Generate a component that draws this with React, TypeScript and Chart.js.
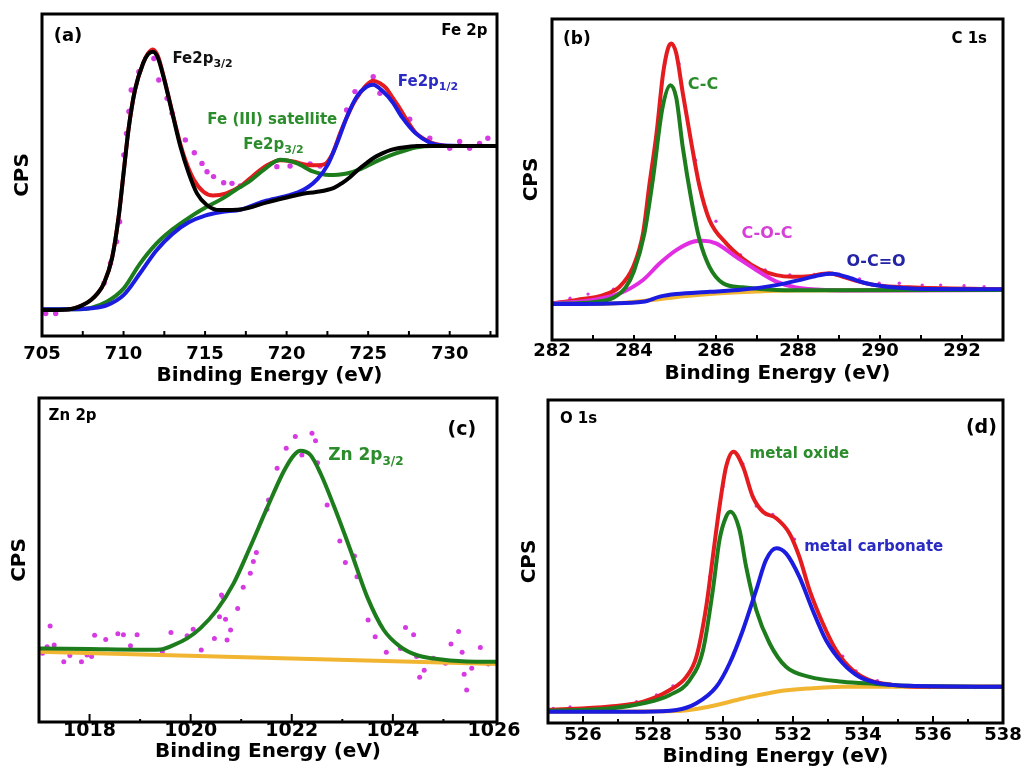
import React, { useEffect, useRef } from "react";
import { Chart, registerables } from "chart.js";

Chart.register(...registerables);

const FONT = '"DejaVu Sans", "Liberation Sans", Arial, sans-serif';

const RED = "#e41b1f";
const BLACK = "#000000";
const BLUE = "#1c1ce0";
const GREEN = "#1d7d1d";
const MAGENTA = "#d63be3";
const PINK = "#e22ee2";
const ORANGE = "#f2b531";
const LGREEN = "#2b8c2b";
const LBLUE = "#2a2ac4";

// ---------------- (a) Fe 2p ----------------
const feTicks = [705, 710, 715, 720, 725, 730];
const feMinor = [707.5, 710, 712.5, 715, 717.5, 720, 722.5, 725, 727.5, 730, 732.5];
const feRedE = [705, 706, 707, 707.5, 708, 708.4, 708.8, 709.3, 709.7, 710, 710.3, 710.7, 711.2, 711.5, 711.8, 712.1, 712.5, 713, 713.5, 713.8, 714.3, 714.9, 715.5, 716.3, 717.2, 718, 718.8, 719.6, 720.4, 721.2, 721.8, 722.3, 722.8, 723.3, 723.7, 724.1, 724.5, 724.9, 725.3, 725.7, 726.1, 726.5, 726.9, 727.4, 727.9, 728.4, 728.9, 729.5, 730, 732.9];
const feRedY = [8.1, 8.1, 8.6, 9.6, 11.2, 13.2, 16.4, 24.3, 37, 50.5, 64, 76.4, 84.7, 87.8, 89, 87, 79.8, 69.3, 59.3, 54.5, 48.6, 44.8, 43.6, 44.3, 46.6, 50, 53, 54.6, 54.2, 53.2, 53, 53.3, 56.5, 63.2, 68, 72.3, 75.4, 78, 79.3, 78.6, 77, 74, 71, 66.8, 63.2, 61.3, 60, 59.3, 59, 59];
const feBlackE = [705, 706, 707, 707.5, 708, 708.4, 708.8, 709.3, 709.7, 710, 710.3, 710.7, 711.2, 711.5, 711.8, 712.1, 712.5, 713, 713.5, 714, 714.5, 715.1, 715.9, 717.2, 718.8, 720, 721, 721.8, 722.9, 723.4, 723.9, 724.4, 724.9, 725.4, 725.9, 726.4, 726.9, 727.5, 728, 729, 732.9];
const feBlackY = [8.1, 8.1, 8.6, 9.6, 11.2, 13.2, 16.4, 24.3, 37, 50.5, 64, 76.4, 84.7, 87.5, 88.3, 86.5, 79.5, 69, 58.6, 50.5, 44.3, 40.7, 39.1, 39.3, 41.5, 43, 44.2, 44.7, 46, 47.5, 49.4, 51.7, 53.7, 55.5, 56.8, 57.8, 58.4, 58.8, 59, 59, 59];
const feBlueE = [705, 707, 708, 709, 710, 711, 712, 713, 714, 715, 716, 717.2, 718.6, 720, 720.7, 721.3, 721.9, 722.5, 723.1, 723.7, 724.3, 724.9, 725.3, 725.9, 726.5, 727.1, 727.9, 728.8, 729.6, 732.9];
const feBlueY = [8.3, 8.3, 8.6, 9.6, 12.7, 19.4, 26.5, 31.7, 35.3, 37.4, 38.5, 39.3, 41.8, 43.5, 44.6, 46.2, 48.8, 53, 60, 68.1, 74.3, 77.4, 78, 76, 72.6, 67.8, 63, 60, 59.2, 59];
const feGreenE = [705, 707, 708, 709, 710, 711, 712, 713, 714, 715, 716, 717, 717.6, 718.6, 719.6, 720.6, 721.6, 722.6, 723.6, 724.6, 725.7, 726.7, 728, 729, 732.9];
const feGreenY = [8.3, 8.3, 8.7, 10.7, 14.7, 22.4, 28.6, 33.1, 36.7, 39.8, 42.5, 45.8, 47.6, 51.6, 54.7, 53.7, 51.1, 50, 50.4, 52, 54.7, 56.7, 58.6, 59, 59];
const feDotsE = [705.23, 705.84, 708.8, 709.2, 709.57, 709.76, 710.02, 710.18, 710.33, 710.47, 710.94, 711.86, 712.16, 712.67, 712.98, 713.79, 714.34, 714.81, 715.12, 715.52, 716.14, 716.65, 717.16, 719.4, 720.21, 721.44, 722.05, 723.68, 724.19, 725.31, 725.72, 726.74, 727.55, 728.78, 730, 730.61, 731.22, 731.83, 732.34];
const feDotsY = [7, 7, 16.4, 22.6, 29.3, 35.5, 56.2, 62.9, 69.7, 76.4, 82.1, 86.2, 79.5, 73.8, 69.2, 60.9, 56.9, 53.6, 51, 49.5, 47.6, 47.4, 46.6, 52.6, 52.8, 53.4, 52.8, 70.2, 75.9, 80.5, 75.4, 71.7, 67.3, 61.4, 58.3, 60.4, 58.3, 59.8, 61.4];

// ---------------- (b) C 1s ----------------
const cTicks = [282, 284, 286, 288, 290, 292];
const cMinor = [283, 284, 285, 286, 287, 288, 289, 290, 291, 292];
const cRedE = [282, 282.6, 283.25, 283.65, 283.98, 284.22, 284.38, 284.55, 284.71, 284.83, 284.91, 285.03, 285.19, 285.4, 285.6, 285.84, 286.25, 286.65, 287.06, 287.47, 287.87, 288.28, 288.76, 289.09, 289.49, 289.9, 290.71, 293];
const cRedY = [11.4, 12.5, 14, 16.6, 22.8, 33.2, 48.8, 64.4, 83.1, 90.9, 92.4, 89.3, 76.9, 61.3, 47.8, 37.4, 30.1, 25.4, 22, 20.2, 19.7, 19.9, 20.8, 19.7, 18.2, 17.1, 16.4, 15.8];
const cCCE = [282, 283, 283.5, 283.8, 284.0, 284.25, 284.46, 284.69, 284.89, 285.03, 285.19, 285.4, 285.6, 285.84, 286.17, 286.65, 287.47, 288.5, 293];
const cCCY = [11.3, 11.8, 13.2, 16.5, 21.5, 33, 50, 72, 79.4, 75.5, 60, 43.6, 31.2, 22.8, 17.7, 16.4, 15.6, 15.5, 15.6];
const cCOCE = [282, 283, 283.65, 284.22, 284.63, 285.03, 285.44, 285.68, 286, 286.49, 286.98, 287.47, 287.95, 288.68, 290, 293];
const cCOCY = [11.4, 12.5, 14.5, 18.7, 23.9, 28, 30.6, 30.9, 30.1, 25.9, 21.8, 18.2, 16.4, 15.6, 15.4, 15.6];
const cOCOE = [282, 283.41, 284.22, 284.63, 285.03, 285.84, 286.65, 287.47, 288.11, 288.52, 288.84, 289.17, 289.66, 290.3, 291.1, 293];
const cOCOY = [11.2, 11.4, 11.9, 13.5, 14.3, 15, 15.7, 17.1, 18.9, 20.2, 20.6, 19.7, 17.7, 16.4, 15.9, 15.8];
const cBaseE = [282, 283.5, 284.5, 285.2, 286, 287, 288, 293];
const cBaseY = [11.2, 11.4, 12.5, 13.6, 14.5, 15.1, 15.4, 15.6];
const cDotsE = [282.44, 282.88, 283.5, 284.1, 284.5, 284.75, 285.1, 285.5, 286, 286.6, 287.2, 287.8, 288.4, 289.0, 289.5, 289.98, 290.47, 291.03, 291.48, 292.05, 292.54];
const cDotsY = [13, 14.3, 15.8, 27, 58, 86, 86, 56, 37, 26.5, 21.8, 20.3, 20.4, 20.5, 19, 17.7, 17.7, 17.1, 17.1, 16.9, 16.6];

// ---------------- (c) Zn 2p ----------------
const znTicks = [1018, 1020, 1022, 1024, 1026];
const znMajor = [1018, 1020, 1022, 1024];
const znMinor = [1019, 1021, 1023, 1025];
const znFitE = [1017, 1018, 1019, 1019.4, 1019.67, 1019.93, 1020.19, 1020.52, 1020.85, 1021.18, 1021.51, 1021.84, 1022.04, 1022.17, 1022.37, 1022.57, 1022.83, 1023.16, 1023.49, 1023.82, 1024.15, 1024.48, 1024.8, 1025.46, 1026.06];
const znFitY = [22.7, 22.5, 22.3, 22.4, 23.8, 25.8, 28.9, 34.6, 42.8, 54.1, 66, 77.3, 82.3, 83.7, 82.4, 76.7, 66.8, 53.1, 38.7, 28.4, 23.2, 20.6, 19.6, 18.7, 18.6];
const znBaseE = [1017, 1026.06];
const znBaseY = [21.7, 17.9];
const znDotsE = [1017.07, 1017.16, 1017.22, 1017.3, 1017.49, 1017.61, 1017.84, 1017.95, 1018.04, 1018.1, 1018.32, 1018.56, 1018.67, 1018.81, 1018.94, 1019.44, 1019.61, 1019.93, 1020.05, 1020.21, 1020.47, 1020.57, 1020.61, 1020.64, 1020.69, 1020.72, 1020.79, 1020.93, 1021.04, 1021.18, 1021.24, 1021.3, 1021.51, 1021.54, 1021.71, 1021.89, 1022.07, 1022.2, 1022.4, 1022.47, 1022.51, 1022.7, 1022.95, 1023.06, 1023.24, 1023.29, 1023.51, 1023.65, 1023.87, 1024.15, 1024.25, 1024.41, 1024.47, 1024.53, 1024.62, 1024.8, 1025.04, 1025.15, 1025.3, 1025.37, 1025.41, 1025.46, 1025.56, 1025.73, 1025.89];
const znDotsY = [21.2, 23.2, 29.6, 23.8, 18.6, 20.5, 18.6, 20.7, 20.2, 26.8, 25.5, 27.2, 26.9, 23.5, 26.9, 21.7, 27.6, 26.6, 28.6, 22.2, 25.8, 32.5, 39.2, 38.5, 31.7, 25.3, 28.4, 35, 41.6, 45.9, 49.5, 52.3, 65.7, 68.5, 78.3, 84.5, 88.1, 82.4, 89.1, 86.8, 80, 67, 55.9, 49.2, 51.2, 44.8, 31.5, 26.3, 21.5, 22.7, 29.2, 26.9, 20.2, 13.8, 16, 19.7, 18.1, 24.1, 27.9, 21.5, 14.7, 9.9, 16.6, 23, 17.9];

// ---------------- (d) O 1s ----------------
const oTicks = [526, 528, 530, 532, 534, 536, 538];
const oMajor = [526, 528, 530, 532, 534, 536];
const oMinor = [527, 529, 531, 533, 535, 537];
const oRedE = [525, 526.77, 527.72, 528.48, 528.95, 529.24, 529.52, 529.71, 529.9, 530.09, 530.3, 530.57, 530.85, 531.14, 531.52, 531.9, 532.18, 532.47, 532.85, 533.23, 533.7, 534.18, 534.84, 535.5, 538];
const oRedY = [4, 5.1, 6.6, 10.2, 14.3, 20.5, 36, 51.5, 67, 79.4, 84, 79.4, 70.1, 65.4, 63.4, 58.7, 51.5, 41.2, 30.9, 22.6, 16.4, 13.3, 11.8, 11.2, 11.2];
const oOxE = [525, 526.77, 527.72, 528.48, 529.05, 529.43, 529.71, 529.9, 530.09, 530.21, 530.47, 530.66, 530.95, 531.33, 531.8, 532.47, 533.42, 534.37, 535.3, 538];
const oOxY = [3.8, 4.5, 6.1, 8.7, 13.3, 22.6, 41.2, 56.7, 63.9, 65.4, 59.8, 48.4, 35, 24.7, 17.4, 14.3, 12.8, 12.1, 11.5, 11.2];
const oCarbE = [525, 527.72, 528.67, 529.24, 529.81, 530.19, 530.57, 530.95, 531.23, 531.52, 531.8, 532.18, 532.56, 532.94, 533.42, 533.89, 534.37, 535.3, 538];
const oCarbY = [3.5, 3.5, 4, 6.1, 11.2, 18.5, 28.8, 41.2, 50.5, 54.1, 52.5, 45.3, 35, 25.7, 18.5, 14.3, 12.5, 11.5, 11.2];
const oBaseE = [525, 528.67, 529.62, 530.57, 531.52, 532.47, 533.42, 538];
const oBaseY = [3.5, 3.7, 5.1, 7.6, 9.7, 10.7, 11.2, 11.2];
const oDotsE = [525.15, 525.63, 527.53, 528.1, 528.57, 529.62, 530.0, 530.57, 530.95, 531.42, 532.04, 533.42, 533.8, 534.41, 534.94, 535.9, 537.2];
const oDotsY = [4.5, 5, 6.6, 8.7, 11.5, 45.3, 73.2, 80.2, 67.2, 64.6, 56.9, 20.7, 16.1, 13.1, 11.2, 11, 11];

// ---------------- types / config ----------------
type Series = { xs: number[]; ys: number[]; color: string; dots?: boolean; order: number; width?: number; radius?: number };
type Part = { t: string; sub?: boolean };
type Label = { x: number; y: number; parts: Part[]; color: string; size: number; align?: "left" | "right" };
type Mark = { values: number[]; len: number };
type Panel = {
  area: { l: number; t: number; r: number; b: number };
  wy: number;
  hx: number;
  xMin: number;
  xMax: number;
  ticks: number[];
  marks: Mark[];
  tickPad: number;
  titlePad: number;
  cpsPad: number;
  tickSize: number;
  series: Series[];
  labels: Label[];
};

const W = 1026;
const H = 775;

const panels: Panel[] = [
  {
    area: { l: 42, t: 14, r: 497, b: 336 }, wy: 42, hx: 54,
    xMin: 705, xMax: 732.9, ticks: feTicks, marks: [{ values: feMinor, len: 5 }],
    tickPad: 9, titlePad: 4, cpsPad: 13, tickSize: 18,
    series: [
      { xs: feDotsE, ys: feDotsY, color: MAGENTA, dots: true, order: 10, radius: 2.7 },
      { xs: feRedE, ys: feRedY, color: RED, order: 6 },
      { xs: feGreenE, ys: feGreenY, color: GREEN, order: 5 },
      { xs: feBlueE, ys: feBlueY, color: BLUE, order: 4 },
      { xs: feBlackE, ys: feBlackY, color: BLACK, order: 3 },
    ],
    labels: [
      { x: 705.72, y: 93.2, parts: [{ t: "(a)" }], color: "#000", size: 18 },
      { x: 732.32, y: 94.6, parts: [{ t: "Fe 2p" }], color: "#000", size: 15, align: "right" },
      { x: 713.0, y: 85.9, parts: [{ t: "Fe2p" }, { t: "3/2", sub: true }], color: "#111", size: 15 },
      { x: 715.14, y: 67.1, parts: [{ t: "Fe (III) satellite" }], color: LGREEN, size: 15 },
      { x: 717.34, y: 59.3, parts: [{ t: "Fe2p" }, { t: "3/2", sub: true }], color: LGREEN, size: 15 },
      { x: 726.82, y: 78.9, parts: [{ t: "Fe2p" }, { t: "1/2", sub: true }], color: LBLUE, size: 15 },
    ],
  },
  {
    area: { l: 552, t: 19, r: 1003, b: 340 }, wy: 42, hx: 50,
    xMin: 282, xMax: 293, ticks: cTicks, marks: [{ values: cMinor, len: 5 }],
    tickPad: 2, titlePad: 6, cpsPad: 12, tickSize: 18,
    series: [
      { xs: cDotsE, ys: cDotsY, color: MAGENTA, dots: true, order: 10, radius: 1.7 },
      { xs: cBaseE, ys: cBaseY, color: ORANGE, order: 9 },
      { xs: cRedE, ys: cRedY, color: RED, order: 6 },
      { xs: cCOCE, ys: cCOCY, color: PINK, order: 5 },
      { xs: cCCE, ys: cCCY, color: GREEN, order: 4 },
      { xs: cOCOE, ys: cOCOY, color: BLUE, order: 3 },
    ],
    labels: [
      { x: 282.27, y: 93.6, parts: [{ t: "(b)" }], color: "#000", size: 17 },
      { x: 292.61, y: 93.8, parts: [{ t: "C 1s" }], color: "#000", size: 15, align: "right" },
      { x: 285.31, y: 79.4, parts: [{ t: "C-C" }], color: LGREEN, size: 16 },
      { x: 286.62, y: 33, parts: [{ t: "C-O-C" }], color: "#d640d6", size: 16 },
      { x: 289.18, y: 24.5, parts: [{ t: "O-C=O" }], color: "#2424a8", size: 16 },
    ],
  },
  {
    area: { l: 39, t: 398, r: 497, b: 722 }, wy: 39, hx: 53,
    xMin: 1017, xMax: 1026.06, ticks: znTicks, marks: [{ values: znMajor, len: 8 }, { values: znMinor, len: 3 }],
    tickPad: 0, titlePad: 13, cpsPad: 10, tickSize: 19,
    series: [
      { xs: znDotsE, ys: znDotsY, color: MAGENTA, dots: true, order: 10, radius: 2.5 },
      { xs: znBaseE, ys: znBaseY, color: ORANGE, order: 5 },
      { xs: znFitE, ys: znFitY, color: GREEN, order: 3 },
    ],
    labels: [
      { x: 1017.19, y: 94.3, parts: [{ t: "Zn 2p" }], color: "#000", size: 15 },
      { x: 1025.08, y: 90.1, parts: [{ t: "(c)" }], color: "#000", size: 19 },
      { x: 1022.72, y: 82.1, parts: [{ t: "Zn 2p" }, { t: "3/2", sub: true }], color: LGREEN, size: 17 },
    ],
  },
  {
    area: { l: 548, t: 400, r: 1003, b: 723 }, wy: 38, hx: 52,
    xMin: 525, xMax: 538, ticks: oTicks, marks: [{ values: oMajor, len: 7 }, { values: oMinor, len: 4 }],
    tickPad: 3, titlePad: 8, cpsPad: 10, tickSize: 18,
    series: [
      { xs: oDotsE, ys: oDotsY, color: MAGENTA, dots: true, order: 10, radius: 1.7 },
      { xs: oBaseE, ys: oBaseY, color: ORANGE, order: 9 },
      { xs: oRedE, ys: oRedY, color: RED, order: 6 },
      { xs: oOxE, ys: oOxY, color: GREEN, order: 5 },
      { xs: oCarbE, ys: oCarbY, color: BLUE, order: 3 },
    ],
    labels: [
      { x: 525.34, y: 94.1, parts: [{ t: "O 1s" }], color: "#000", size: 15 },
      { x: 536.94, y: 91.2, parts: [{ t: "(d)" }], color: "#000", size: 19 },
      { x: 530.76, y: 83.4, parts: [{ t: "metal oxide" }], color: LGREEN, size: 15 },
      { x: 532.32, y: 54.6, parts: [{ t: "metal carbonate" }], color: LBLUE, size: 15 },
    ],
  },
];

function makeDeco(p: Panel) {
  return {
    id: "deco",
    afterDraw(chart: any) {
      const ctx: CanvasRenderingContext2D = chart.ctx;
      const { left, right, top, bottom } = chart.chartArea;
      const xs = chart.scales.x;
      const ys = chart.scales.y;
      ctx.save();
      ctx.strokeStyle = "#000";
      ctx.lineWidth = 2;
      for (const m of p.marks) {
        for (const v of m.values) {
          const px = xs.getPixelForValue(v);
          ctx.beginPath();
          ctx.moveTo(px, bottom);
          ctx.lineTo(px, bottom - m.len);
          ctx.stroke();
        }
      }
      ctx.lineWidth = 3;
      ctx.strokeRect(left, top, right - left, bottom - top);
      ctx.textBaseline = "middle";
      ctx.textAlign = "left";
      for (const lab of p.labels) {
        const px = xs.getPixelForValue(lab.x);
        const py = ys.getPixelForValue(lab.y);
        const mainFont = `bold ${lab.size}px ${FONT}`;
        const subSize = Math.round(lab.size * 0.72);
        const subFont = `bold ${subSize}px ${FONT}`;
        let total = 0;
        for (const part of lab.parts) {
          ctx.font = part.sub ? subFont : mainFont;
          total += ctx.measureText(part.t).width;
        }
        let cx = lab.align === "right" ? px - total : px;
        ctx.fillStyle = lab.color;
        for (const part of lab.parts) {
          ctx.font = part.sub ? subFont : mainFont;
          const dy = part.sub ? lab.size * 0.32 : 0;
          ctx.fillText(part.t, cx, py + dy);
          cx += ctx.measureText(part.t).width;
        }
      }
      ctx.restore();
    },
  };
}

function PanelChart({ p }: { p: Panel }) {
  const ref = useRef<HTMLCanvasElement | null>(null);
  useEffect(() => {
    const canvas = ref.current;
    if (!canvas) return;
    const tickFont = { family: FONT, size: p.tickSize, weight: "bold" as const, lineHeight: 1 };
    const titleFont = { family: FONT, size: 20, weight: "bold" as const, lineHeight: 1 };
    const chart = new Chart(canvas, {
      type: "line",
      data: {
        datasets: p.series.map((s) => ({
          data: s.xs.map((x, i) => ({ x, y: s.ys[i] })),
          borderColor: s.color,
          backgroundColor: s.color,
          borderWidth: s.dots ? 0 : s.width ?? 4,
          showLine: !s.dots,
          pointRadius: s.dots ? s.radius ?? 2.4 : 0,
          pointBorderWidth: 0,
          pointHoverRadius: 0,
          cubicInterpolationMode: "monotone" as const,
          fill: false,
          order: s.order,
        })),
      },
      options: {
        animation: false,
        responsive: false,
        devicePixelRatio: 1,
        events: [],
        layout: {
          padding: {
            left: p.area.l - p.wy,
            top: p.area.t,
            right: W - p.area.r,
            bottom: H - p.area.b - p.hx,
          },
        },
        plugins: {
          legend: { display: false },
          tooltip: { enabled: false },
          title: { display: false },
        },
        scales: {
          x: {
            type: "linear",
            min: p.xMin,
            max: p.xMax,
            afterBuildTicks: (scale: any) => {
              scale.ticks = p.ticks.map((v) => ({ value: v }));
            },
            afterFit: (scale: any) => {
              scale.height = p.hx;
              scale.paddingLeft = 0;
              scale.paddingRight = 0;
            },
            grid: { display: false, drawTicks: false },
            border: { display: false },
            ticks: {
              color: "#000",
              font: tickFont,
              padding: p.tickPad,
              maxRotation: 0,
              autoSkip: false,
              callback: (v: any) => String(v),
            },
            title: {
              display: true,
              text: "Binding Energy (eV)",
              color: "#000",
              font: titleFont,
              padding: { top: 0, bottom: p.titlePad },
            },
          },
          y: {
            type: "linear",
            min: 0,
            max: 100,
            afterFit: (scale: any) => {
              scale.width = p.wy;
              scale.paddingTop = 0;
              scale.paddingBottom = 0;
            },
            grid: { display: false, drawTicks: false },
            border: { display: false },
            ticks: { display: false },
            title: {
              display: true,
              text: "CPS",
              color: "#000",
              font: titleFont,
              padding: { top: p.cpsPad, bottom: 0 },
            },
          },
        },
      },
      plugins: [makeDeco(p)],
    } as any);
    return () => chart.destroy();
  }, [p]);
  return (
    <canvas
      ref={ref}
      width={W}
      height={H}
      style={{ position: "absolute", left: 0, top: 0, width: W, height: H }}
    />
  );
}

export default function App() {
  return (
    <div
      style={{
        position: "absolute",
        left: 0,
        top: 0,
        width: W,
        height: H,
        background: "#fff",
        overflow: "hidden",
      }}
    >
      {panels.map((p, i) => (
        <PanelChart key={i} p={p} />
      ))}
    </div>
  );
}
